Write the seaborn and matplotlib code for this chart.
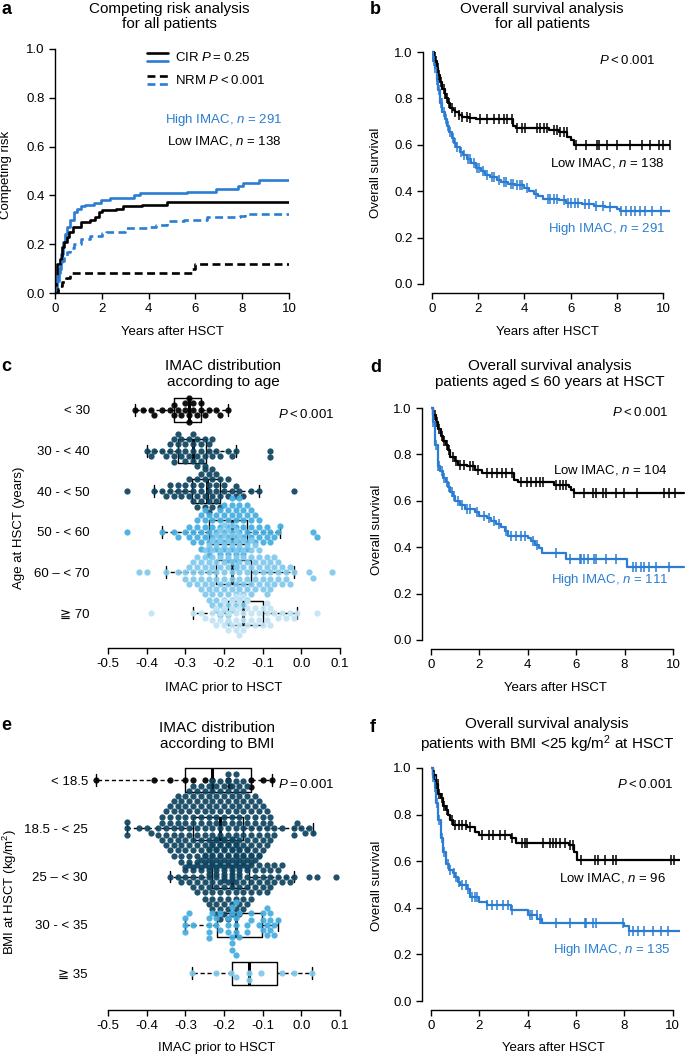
import numpy as np
import pandas as pd
import seaborn as sns
import matplotlib.pyplot as plt
from matplotlib.lines import Line2D
from matplotlib.legend_handler import HandlerBase

BLUE = "#2A7DD2"

# ---------------- a: competing risk (years, cumulative incidence) ----------------
cir_high_t = [0, 0.08, 0.15, 0.24, 0.33, 0.42, 0.53, 0.65, 0.81, 0.95, 1.09, 1.3, 1.66, 1.95, 2.37, 3.37, 3.65, 5.64, 6.9, 7.8, 8.05, 8.7, 10]
cir_high_y = [0, 0.05, 0.1, 0.16, 0.21, 0.24, 0.27, 0.3, 0.33, 0.345, 0.355, 0.36, 0.37, 0.38, 0.39, 0.40, 0.41, 0.415, 0.425, 0.437, 0.45, 0.465, 0.465]
cir_low_t = [0, 0.05, 0.1, 0.2, 0.3, 0.4, 0.5, 0.6, 0.75, 1.1, 1.5, 1.7, 1.9, 2.0, 2.6, 2.9, 3.7, 4.8, 10]
cir_low_y = [0, 0.06, 0.12, 0.14, 0.19, 0.21, 0.23, 0.25, 0.27, 0.29, 0.30, 0.31, 0.33, 0.34, 0.345, 0.355, 0.362, 0.373, 0.373]
nrm_high_t = [0, 0.05, 0.1, 0.2, 0.3, 0.4, 0.5, 0.65, 0.8, 1.1, 1.5, 2.0, 2.2, 3.0, 4.0, 4.3, 4.8, 5.5, 6.5, 7.9, 8.1, 10]
nrm_high_y = [0, 0.04, 0.08, 0.11, 0.13, 0.15, 0.17, 0.185, 0.2, 0.22, 0.235, 0.245, 0.25, 0.265, 0.27, 0.28, 0.295, 0.30, 0.31, 0.315, 0.325, 0.325]
nrm_low_t = [0, 0.12, 0.2, 0.3, 0.45, 0.65, 5.85, 6.0, 10]
nrm_low_y = [0, 0.015, 0.03, 0.045, 0.06, 0.08, 0.10, 0.12, 0.12]

# ---------------- b: overall survival, all patients ----------------
b_low_t = [0, 0.08, 0.15, 0.2, 0.28, 0.35, 0.45, 0.55, 0.62, 0.7, 0.8, 0.9, 1.0, 1.15, 1.3, 1.6, 1.9, 3.5, 3.65, 5.05, 5.5, 5.85, 6.0, 6.13, 10.3]
b_low_s = [1.0, 0.98, 0.96, 0.93, 0.90, 0.87, 0.84, 0.82, 0.80, 0.78, 0.76, 0.75, 0.74, 0.73, 0.72, 0.715, 0.71, 0.68, 0.672, 0.665, 0.655, 0.635, 0.62, 0.60, 0.60]
b_low_cens = [0.12, 0.18, 0.25, 0.32, 0.4, 0.5, 0.58, 0.66, 0.75, 0.85, 1.01, 1.15, 1.3, 1.52, 1.65, 2.09, 2.38, 2.67, 2.89, 3.1, 3.25, 3.46, 3.68, 3.9, 4.04, 4.55, 4.69, 4.83, 4.98, 5.27, 5.41, 5.56, 5.7, 5.84, 6.23, 6.68, 7.15, 7.22, 7.58, 8.01, 8.59, 9.09, 9.45, 9.81, 10.0, 10.29]
b_high_t = [0, 0.05, 0.12, 0.2, 0.27, 0.35, 0.45, 0.55, 0.65, 0.75, 0.85, 0.95, 1.05, 1.2, 1.35, 1.5, 1.7, 1.9, 2.1, 2.3, 2.5, 2.8, 3.0, 3.3, 3.6, 4.0, 4.2, 4.4, 4.6, 4.8, 5.5, 5.8, 6.5, 7.0, 7.5, 8.0, 8.15, 10.3]
b_high_s = [1.0, 0.96, 0.93, 0.88, 0.835, 0.78, 0.74, 0.71, 0.68, 0.655, 0.63, 0.61, 0.59, 0.57, 0.555, 0.54, 0.52, 0.50, 0.485, 0.47, 0.46, 0.45, 0.44, 0.43, 0.425, 0.415, 0.40, 0.39, 0.38, 0.365, 0.36, 0.35, 0.345, 0.338, 0.332, 0.322, 0.315, 0.315]
b_high_cens = [0.08, 0.15, 0.22, 0.3, 0.38, 0.42, 0.5, 0.6, 0.7, 0.8, 0.9, 1.0, 1.1, 1.25, 1.4, 1.55, 1.65, 1.8, 1.95, 2.05, 2.2, 2.4, 2.6, 2.7, 2.9, 3.1, 3.2, 3.4, 3.5, 3.7, 3.8, 3.9, 4.1, 4.5, 5.0, 5.1, 5.3, 5.4, 5.7, 5.9, 6.0, 6.2, 6.3, 6.6, 6.8, 7.1, 7.4, 7.7, 8.2, 8.4, 8.6, 8.8, 9.0, 9.2, 9.5, 9.9]

# ---------------- d: overall survival, aged <= 60 ----------------
d_low_t = [0, 0.1, 0.2, 0.3, 0.4, 0.5, 0.6, 0.7, 0.8, 1.0, 1.1, 1.5, 1.8, 2.1, 3.45, 3.6, 5.1, 5.7, 5.8, 5.9, 10.45]
d_low_s = [1.0, 0.97, 0.94, 0.91, 0.88, 0.86, 0.84, 0.82, 0.79, 0.77, 0.755, 0.748, 0.735, 0.722, 0.69, 0.68, 0.669, 0.66, 0.645, 0.633, 0.633]
d_low_cens = [0.15, 0.25, 0.35, 0.45, 0.55, 0.65, 0.75, 0.9, 1.05, 1.2, 1.35, 1.6, 1.75, 1.95, 2.3, 2.51, 2.71, 2.92, 3.12, 3.33, 3.74, 3.95, 4.15, 4.36, 4.49, 4.63, 5.18, 5.32, 5.45, 5.59, 5.93, 6.34, 6.68, 6.82, 7.1, 7.23, 7.64, 7.99, 8.53, 9.63, 9.84, 10.1]
d_high_t = [0, 0.08, 0.18, 0.28, 0.38, 0.48, 0.6, 0.7, 0.8, 0.9, 1.0, 1.2, 1.4, 1.8, 2.0, 2.3, 2.5, 2.7, 2.9, 3.05, 3.2, 4.0, 4.15, 4.3, 4.45, 4.6, 5.6, 8.1, 10.45]
d_high_s = [1.0, 0.94, 0.84, 0.75, 0.73, 0.70, 0.68, 0.66, 0.64, 0.62, 0.60, 0.58, 0.565, 0.55, 0.535, 0.525, 0.515, 0.50, 0.485, 0.47, 0.45, 0.44, 0.425, 0.41, 0.395, 0.374, 0.348, 0.314, 0.314]
d_high_cens = [0.1, 0.2, 0.3, 0.35, 0.45, 0.55, 0.65, 0.75, 0.85, 0.95, 1.1, 1.3, 1.5, 1.6, 1.9, 2.2, 2.4, 2.6, 2.8, 3.1, 3.3, 3.5, 3.7, 3.9, 4.2, 4.4, 5.18, 5.73, 6.14, 6.2, 6.34, 6.48, 6.75, 6.82, 7.23, 7.64, 8.33, 8.47, 8.67, 8.8, 9.01, 9.29, 9.84]

# ---------------- f: overall survival, BMI < 25 ----------------
f_low_t = [0, 0.1, 0.2, 0.3, 0.4, 0.5, 0.6, 0.7, 0.8, 0.9, 1.5, 1.8, 2.0, 3.3, 3.5, 5.7, 5.9, 6.05, 10.3]
f_low_s = [1.0, 0.97, 0.93, 0.89, 0.87, 0.835, 0.82, 0.80, 0.778, 0.756, 0.745, 0.727, 0.713, 0.70, 0.677, 0.67, 0.641, 0.603, 0.603]
f_low_cens = [0.12, 0.2, 0.28, 0.35, 0.45, 0.55, 0.65, 0.85, 1.0, 1.15, 1.3, 1.45, 1.6, 2.1, 2.38, 2.58, 2.86, 3.06, 3.34, 3.75, 3.89, 3.96, 4.64, 4.92, 5.05, 5.19, 5.33, 5.54, 5.74, 5.88, 6.22, 6.77, 6.91, 7.18, 7.53, 7.66, 9.93, 10.07]
f_high_t = [0, 0.08, 0.15, 0.2, 0.3, 0.4, 0.5, 0.6, 0.75, 0.9, 1.0, 1.1, 1.2, 1.5, 1.6, 2.0, 2.3, 3.3, 4.0, 4.4, 4.6, 8.0, 8.2, 10.3]
f_high_s = [1.0, 0.96, 0.92, 0.85, 0.778, 0.70, 0.64, 0.59, 0.56, 0.548, 0.53, 0.51, 0.498, 0.48, 0.448, 0.426, 0.41, 0.39, 0.369, 0.35, 0.335, 0.32, 0.30, 0.30]
f_high_cens = [0.1, 0.18, 0.25, 0.33, 0.45, 0.55, 0.7, 0.8, 0.95, 1.05, 1.15, 1.3, 1.45, 1.55, 1.7, 1.8, 1.9, 2.31, 2.51, 2.72, 2.99, 3.2, 3.34, 4.09, 4.16, 4.37, 4.51, 4.57, 5.19, 5.74, 6.36, 6.43, 6.7, 6.84, 7.94, 8.21, 8.35, 8.56, 8.83, 9.18, 9.52, 9.79]

# ---------------- c: IMAC by age group (value, number of patients) ----------------
age_labels = ["< 30", "30 - < 40", "40 - < 50", "50 - < 60", "60 \u2013 < 70", "\u2267 70"]
age_colors = ["#000000", "#0F4561", "#0F4561", "#45AEE0", "#80C9EC", "#C2E5F6"]
age_lt30_v = [-0.43, -0.41, -0.39, -0.38, -0.36, -0.34, -0.33, -0.32, -0.31, -0.30, -0.29, -0.28, -0.27, -0.26, -0.25, -0.24, -0.22, -0.21, -0.19]
age_lt30_n = [1, 1, 1, 1, 1, 1, 2, 1, 1, 2, 3, 2, 1, 2, 1, 1, 1, 1, 1]
age_30_v = [-0.40, -0.39, -0.38, -0.36, -0.35, -0.34, -0.33, -0.32, -0.31, -0.30, -0.29, -0.28, -0.27, -0.26, -0.25, -0.24, -0.23, -0.22, -0.21, -0.19, -0.18, -0.17, -0.08]
age_30_n = [1, 1, 1, 1, 1, 2, 3, 3, 2, 3, 2, 4, 3, 3, 3, 2, 2, 1, 1, 1, 1, 1, 2]
age_40_v = [-0.45, -0.38, -0.36, -0.35, -0.34, -0.33, -0.32, -0.31, -0.30, -0.29, -0.28, -0.27, -0.26, -0.25, -0.24, -0.23, -0.22, -0.21, -0.20, -0.19, -0.18, -0.17, -0.16, -0.15, -0.13, -0.11, -0.02]
age_40_n = [1, 1, 1, 1, 2, 1, 2, 1, 2, 2, 3, 3, 4, 4, 5, 4, 4, 3, 2, 2, 1, 2, 1, 1, 1, 1, 1]
age_50_v = [-0.45, -0.36, -0.33, -0.32, -0.30, -0.29, -0.28, -0.27, -0.26, -0.25, -0.24, -0.23, -0.22, -0.21, -0.20, -0.19, -0.18, -0.17, -0.16, -0.15, -0.14, -0.13, -0.12, -0.11, -0.10, -0.09, -0.08, -0.07, -0.06, -0.055, 0.03, 0.04]
age_50_n = [1, 1, 1, 1, 1, 2, 2, 3, 4, 4, 5, 3, 4, 5, 5, 6, 6, 7, 6, 5, 5, 4, 3, 3, 2, 2, 2, 1, 1, 1, 1, 1]
age_60_v = [-0.42, -0.40, -0.35, -0.32, -0.30, -0.29, -0.28, -0.27, -0.26, -0.25, -0.24, -0.23, -0.22, -0.21, -0.20, -0.19, -0.18, -0.17, -0.16, -0.15, -0.14, -0.13, -0.12, -0.11, -0.10, -0.09, -0.08, -0.07, -0.06, -0.05, -0.04, -0.03, -0.02, 0.02, 0.03, 0.08]
age_60_n = [1, 1, 1, 1, 2, 2, 3, 3, 4, 5, 6, 7, 8, 9, 9, 10, 9, 8, 7, 7, 6, 6, 5, 4, 4, 4, 4, 3, 3, 2, 2, 2, 1, 1, 1, 1]
age_70_v = [-0.39, -0.28, -0.26, -0.25, -0.23, -0.22, -0.21, -0.20, -0.19, -0.18, -0.17, -0.16, -0.15, -0.14, -0.13, -0.12, -0.11, -0.10, -0.09, -0.08, -0.07, -0.06, -0.05, -0.04, -0.03, -0.02, -0.01, 0.04]
age_70_n = [1, 1, 1, 1, 2, 2, 2, 3, 3, 3, 4, 4, 4, 3, 2, 2, 2, 2, 3, 2, 1, 1, 1, 1, 1, 1, 1, 1]

# ---------------- e: IMAC by BMI group ----------------
bmi_labels = ["< 18.5", "18.5 - < 25", "25 \u2013 < 30", "30 - < 35", "\u2267 35"]
bmi_colors = ["#000000", "#0F4561", "#0F4561", "#45AEE0", "#80C9EC"]
bmi_18_v = [-0.53, -0.38, -0.34, -0.30, -0.28, -0.25, -0.23, -0.19, -0.185, -0.13, -0.10, -0.077]
bmi_18_n = [1, 1, 1, 1, 1, 1, 1, 1, 1, 2, 1, 1]
bmi_25_v = [-0.45, -0.42, -0.40, -0.39, -0.37, -0.36, -0.35, -0.34, -0.33, -0.32, -0.31, -0.30, -0.29, -0.28, -0.27, -0.26, -0.25, -0.24, -0.23, -0.22, -0.21, -0.20, -0.19, -0.18, -0.17, -0.16, -0.15, -0.14, -0.13, -0.12, -0.11, -0.10, -0.09, -0.08, -0.07, -0.05, -0.02, -0.01, 0.00, 0.01, 0.02, 0.03]
bmi_25_n = [3, 1, 1, 1, 2, 3, 4, 5, 6, 6, 7, 7, 8, 8, 8, 8, 8, 9, 9, 9, 9, 10, 10, 10, 10, 9, 9, 8, 7, 6, 6, 5, 4, 3, 2, 1, 2, 1, 1, 1, 1, 1]
bmi_30_v = [-0.34, -0.32, -0.31, -0.30, -0.29, -0.28, -0.27, -0.26, -0.25, -0.24, -0.23, -0.22, -0.21, -0.20, -0.19, -0.18, -0.17, -0.16, -0.15, -0.14, -0.13, -0.12, -0.11, -0.10, -0.09, -0.08, -0.07, -0.06, -0.05, -0.04, -0.03, -0.02, 0.02, 0.04, 0.09]
bmi_30_n = [1, 1, 1, 2, 2, 3, 3, 4, 5, 6, 7, 8, 8, 8, 8, 8, 7, 7, 6, 6, 5, 4, 4, 3, 3, 3, 2, 2, 2, 1, 1, 1, 1, 1, 1]
bmi_35_v = [-0.30, -0.29, -0.28, -0.24, -0.23, -0.22, -0.21, -0.19, -0.18, -0.17, -0.16, -0.14, -0.13, -0.11, -0.10, -0.09, -0.08, -0.07, -0.06]
bmi_35_n = [3, 1, 1, 4, 1, 2, 2, 3, 5, 5, 2, 2, 2, 1, 3, 3, 3, 2, 1]
bmi_hi_v = [-0.283, -0.221, -0.183, -0.17, -0.135, -0.105, -0.05, -0.019, 0.028]
bmi_hi_n = [1, 1, 1, 1, 2, 1, 1, 1, 1]

imac_ticks = [-0.5, -0.4, -0.3, -0.2, -0.1, 0.0, 0.1]

sns.set_style("ticks", {"axes.edgecolor": "black", "xtick.color": "black", "ytick.color": "black",
                        "text.color": "black", "axes.labelcolor": "black"})
plt.rcParams["font.family"] = ["Liberation Sans", "DejaVu Sans"]
plt.rcParams["mathtext.fontset"] = "custom"
plt.rcParams["mathtext.rm"] = "Liberation Sans"
plt.rcParams["mathtext.it"] = "Liberation Sans:italic"
plt.rcParams["axes.unicode_minus"] = False
plt.rcParams["font.size"] = 9.5
plt.rcParams["axes.linewidth"] = 1.0

W, H = 685, 1055
fig = plt.figure(figsize=(W / 100, H / 100), dpi=100)

TS = "\u2009"  # thin space used around the relation sign of P values


def px_axes(l, t, r, b):
    return fig.add_axes([l / W, 1 - b / H, (r - l) / W, (b - t) / H])


def ftext(x, y, s, **kw):
    kw.setdefault("ha", "right")
    kw.setdefault("va", "center")
    fig.text(x / W, 1 - y / H, s, **kw)


def ticks(ax):
    ax.tick_params(length=4.5, width=1, labelsize=9.5, pad=3)


class StackedLines(HandlerBase):
    def create_artists(self, legend, orig_handle, xdescent, ydescent, width, height, fontsize, trans):
        mid = (height - ydescent) / 2
        arts = []
        for k, h in enumerate(orig_handle):
            ln = Line2D([0, 1], [0, 1])
            ln.update_from(h)
            y = mid + 3 - 6 * k
            ln.set_data([-xdescent, width - xdescent], [y, y])
            ln.set_transform(trans)
            arts.append(ln)
        return arts


def censor_y(t, s, c):
    idx = np.searchsorted(t, c, side="right") - 1
    return np.asarray(s)[idx]


def km(ax, t, s, cens, color):
    sns.lineplot(x=t, y=s, drawstyle="steps-post", color=color, linewidth=1.6,
                 estimator=None, sort=False, ax=ax)
    sns.scatterplot(x=cens, y=censor_y(t, s, cens), marker="|", s=45, color=color,
                    linewidth=1.1, ax=ax, zorder=3)


def survival_axes(ax, xmax, xlab, ylab):
    ax.set_xlim(0, xmax)
    ax.set_ylim(0, 1.02)
    ax.set_xticks(range(0, 11, 2))
    ax.set_yticks([0, 0.2, 0.4, 0.6, 0.8, 1.0], ["0.0", "0.2", "0.4", "0.6", "0.8", "1.0"])
    ticks(ax)
    sns.despine(ax=ax, offset=6.5, trim=True)
    ax.set_xlabel("Years after HSCT", va="center")
    ax.set_ylabel("Overall survival", va="center")
    ax.xaxis.set_label_coords(*xlab)
    ax.yaxis.set_label_coords(*ylab)


def swarm_axes(ax, groups, labels, colors, width, ylim, xlim, xlab, ylab, ylabel):
    frames = []
    for i, (v, n) in enumerate(groups):
        frames.append(pd.DataFrame({"imac": np.repeat(v, n), "pos": i * 0.25}))
    df = pd.concat(frames, ignore_index=True)
    sns.boxplot(data=df, x="imac", y="pos", orient="y", native_scale=True, width=width,
                fill=False, color="black", linewidth=1, showfliers=False,
                whiskerprops={"linestyle": (0, (3, 2))}, medianprops={"linewidth": 2.2}, ax=ax)
    # box outlines go underneath the dots
    for art in list(ax.lines) + list(ax.patches):
        art.set_zorder(1)
    for i, (v, n) in enumerate(groups):
        sub = df[df["pos"] == i * 0.25]
        sns.swarmplot(data=sub, x="imac", y="pos", orient="y", native_scale=True,
                      color=colors[i], size=4.5, linewidth=0, alpha=0.93,
                      warn_thresh=1, ax=ax)
    for coll in ax.collections:
        coll.set_zorder(5)
    ax.set_xlim(*xlim)
    ax.set_ylim(*ylim)
    ax.set_yticks([i * 0.25 for i in range(len(groups))], labels)
    ax.set_xticks(imac_ticks, [f"{v:.1f}" for v in imac_ticks])
    ticks(ax)
    ax.tick_params(axis="y", length=0, pad=2)
    for side in ["left", "top", "right"]:
        ax.spines[side].set_visible(False)
    ax.spines["bottom"].set_bounds(-0.5, 0.1)
    ax.set_xlabel("IMAC prior to HSCT", va="center")
    ax.set_ylabel(ylabel, va="center")
    ax.xaxis.set_label_coords(*xlab)
    ax.yaxis.set_label_coords(*ylab)


# ---- a ----
ax_a = px_axes(55, 49, 289, 293)
dash = (0, (3, 1.7))
sns.lineplot(x=cir_high_t, y=cir_high_y, drawstyle="steps-post", color=BLUE, linewidth=1.9, estimator=None, sort=False, ax=ax_a)
sns.lineplot(x=cir_low_t, y=cir_low_y, drawstyle="steps-post", color="black", linewidth=1.9, estimator=None, sort=False, ax=ax_a)
sns.lineplot(x=nrm_high_t, y=nrm_high_y, drawstyle="steps-post", color=BLUE, linewidth=1.9, linestyle=dash, estimator=None, sort=False, ax=ax_a)
sns.lineplot(x=nrm_low_t, y=nrm_low_y, drawstyle="steps-post", color="black", linewidth=1.9, linestyle=dash, estimator=None, sort=False, ax=ax_a)
ax_a.set_xlim(0, 10)
ax_a.set_ylim(0, 1)
ax_a.set_xticks(range(0, 11, 2))
ax_a.set_yticks([0, 0.2, 0.4, 0.6, 0.8, 1.0], ["0.0", "0.2", "0.4", "0.6", "0.8", "1.0"])
ticks(ax_a)
sns.despine(ax=ax_a)
ax_a.set_xlabel("Years after HSCT", va="center")
ax_a.set_ylabel("Competing risk", va="center")
ax_a.xaxis.set_label_coords(0.5, -0.16)
ax_a.yaxis.set_label_coords(-0.21, 0.484)
h_solid = (Line2D([], [], color="black", lw=1.9), Line2D([], [], color=BLUE, lw=1.9))
h_dash = (Line2D([], [], color="black", lw=1.9, linestyle=dash), Line2D([], [], color=BLUE, lw=1.9, linestyle=dash))
ax_a.legend([h_solid, h_dash], [f"CIR $P${TS}={TS}0.25", f"NRM $P${TS}<{TS}0.001"],
            handler_map={tuple: StackedLines()},
            loc="upper left", bbox_to_anchor=(0.393, 0.99), frameon=False, handlelength=1.6,
            handletextpad=0.5, labelspacing=0.75, borderaxespad=0, borderpad=0, fontsize=9.5)
ftext(282, 120, "High IMAC, $n$ = 291", color=BLUE)
ftext(282, 141, "Low IMAC, $n$ = 138")

# ---- b ----
ax_b = px_axes(432, 47.4, 670, 284)
km(ax_b, b_low_t, b_low_s, b_low_cens, "black")
km(ax_b, b_high_t, b_high_s, b_high_cens, BLUE)
survival_axes(ax_b, 10.3, (0.483, -0.203), (-0.235, 0.469))
ftext(655, 61, f"$P${TS}<{TS}0.001")
ftext(665, 163, "Low IMAC, $n$ = 138")
ftext(665, 229, "High IMAC, $n$ = 291", color=BLUE)

# ---- c ----
ax_c = px_axes(92.5, 392, 340, 648)
swarm_axes(ax_c, [(age_lt30_v, age_lt30_n), (age_30_v, age_30_n), (age_40_v, age_40_n),
                  (age_50_v, age_50_n), (age_60_v, age_60_n), (age_70_v, age_70_n)],
           age_labels, age_colors, 0.59, (1.465, -0.11), (-0.54, 0.1),
           (0.531, -0.156), (-0.297, 0.469), "Age at HSCT (years)")
ftext(334, 415, f"$P${TS}<{TS}0.001")

# ---- d ----
ax_d = px_axes(431, 403.4, 685, 640)
km(ax_d, d_low_t, d_low_s, d_low_cens, "black")
km(ax_d, d_high_t, d_high_s, d_high_cens, BLUE)
survival_axes(ax_d, 10.5, (0.488, -0.203), (-0.213, 0.465))
ftext(668, 413, f"$P${TS}<{TS}0.001")
ftext(668, 470, "Low IMAC, $n$ = 104")
ftext(668, 580, "High IMAC, $n$ = 111", color=BLUE)

# ---- e ----
ax_e = px_axes(90.6, 758, 340, 1010)
swarm_axes(ax_e, [(bmi_18_v, bmi_18_n), (bmi_25_v, bmi_25_n), (bmi_30_v, bmi_30_n),
                  (bmi_35_v, bmi_35_n), (bmi_hi_v, bmi_hi_n)],
           bmi_labels, bmi_colors, 0.48, (1.19, -0.114), (-0.545, 0.1),
           (0.507, -0.151), (-0.323, 0.468), "BMI at HSCT (kg/m$^{2}$)")
ftext(334, 784, f"$P${TS}={TS}0.001")

# ---- f ----
ax_f = px_axes(431, 763.3, 680, 1001)
km(ax_f, f_low_t, f_low_s, f_low_cens, "black")
km(ax_f, f_high_t, f_high_s, f_high_cens, BLUE)
survival_axes(ax_f, 10.3, (0.49, -0.198), (-0.217, 0.484))
ftext(673, 784, f"$P${TS}<{TS}0.001")
ftext(666, 878, "Low IMAC, $n$ = 96")
ftext(671, 950, "High IMAC, $n$ = 135", color=BLUE)

# ---- titles and panel letters ----
titles = [(169, 16.5, "Competing risk analysis\nfor all patients"),
          (542, 16.5, "Overall survival analysis\nfor all patients"),
          (223, 374, "IMAC distribution\naccording to age"),
          (549.5, 374, "Overall survival analysis\npatients aged \u2264 60 years at HSCT"),
          (217, 736, "IMAC distribution\naccording to BMI"),
          (547, 736, "Overall survival analysis\npatients with BMI <25 kg/m$^{2}$ at HSCT")]
for x, y, s in titles:
    ftext(x, y, s, ha="center", fontsize=11, linespacing=1.12)
letters = [(1, 10, "a"), (370, 10, "b"), (1, 367, "c"), (370, 368, "d"), (1, 725, "e"), (370, 727, "f")]
for x, y, s in letters:
    ftext(x, y, s, ha="left", fontsize=13, fontweight="bold")

fig.savefig("out.png", dpi=100)
